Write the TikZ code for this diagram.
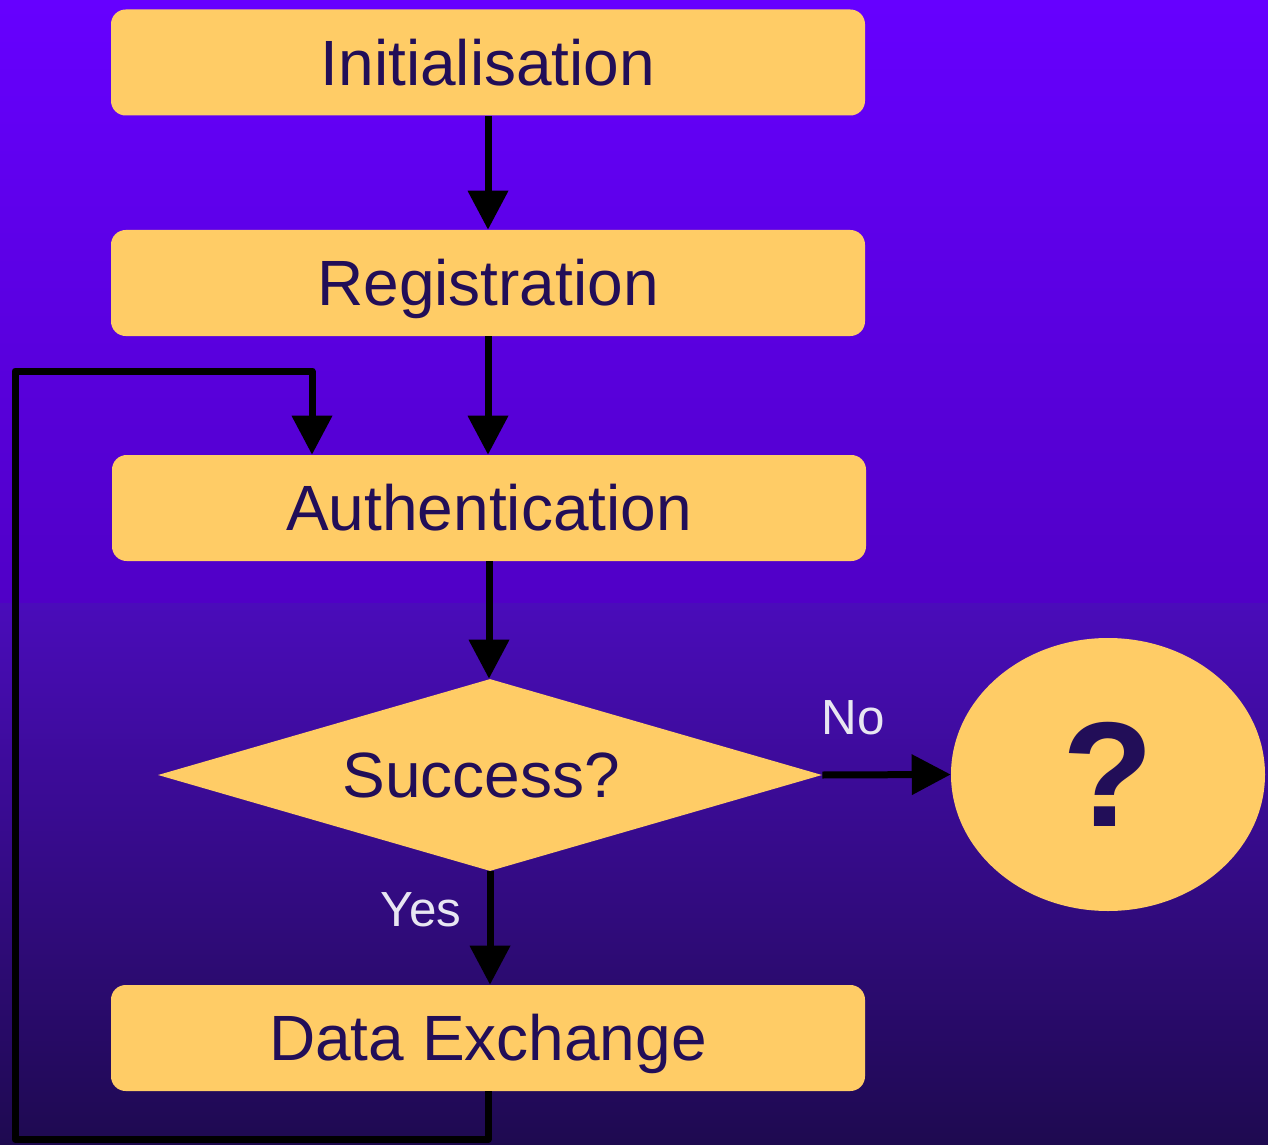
\documentclass[tikz,border=0pt]{standalone}
\usepackage{fontspec}
\setmainfont{Liberation Sans}
\usetikzlibrary{arrows.meta,shapes.geometric}
\definecolor{boxfill}{RGB}{255,204,102}
\definecolor{boxtext}{RGB}{34,14,88}
\definecolor{labeltext}{RGB}{232,230,242}
\definecolor{bgA}{RGB}{102,0,255}
\definecolor{bgB}{RGB}{80,0,198}
\definecolor{bgC}{RGB}{74,12,186}
\definecolor{bgD}{RGB}{30,10,80}
\newcommand\pxu{0.75pt}
\tikzset{
  stepbox/.style={draw=none, fill=boxfill, rounded corners=11pt,
    minimum width=754*\pxu, minimum height=106*\pxu, inner sep=0pt,
    text height=34.4pt, text depth=0pt,
    text=boxtext, font=\fontsize{48}{56}\selectfont},
  decision/.style={diamond, draw=none, fill=boxfill, aspect=3.458,
    minimum width=664*\pxu, minimum height=192*\pxu, inner sep=0pt,
    text height=34.4pt, text depth=0pt,
    text=boxtext, font=\fontsize{48}{56}\selectfont},
  unknown/.style={ellipse, draw=none, fill=boxfill,
    minimum width=314*\pxu, minimum height=273*\pxu, inner sep=0pt,
    text=boxtext, font=\bfseries\fontsize{112}{120}\selectfont},
  flow/.style={draw=black, line width=7*\pxu, line join=round,
    -{Triangle[width=39*\pxu, length=39*\pxu]}},
  branchlabel/.style={text=labeltext, font=\fontsize{37}{44}\selectfont, inner sep=0pt}
}
\begin{document}
\begin{tikzpicture}[x=0.75pt, y=-0.75pt]
  % background in two shaded bands
  \useasboundingbox (0,0) rectangle (1268,1145);
  \shade[top color=bgA, bottom color=bgB] (0,0) rectangle (1268,603);
  \shade[top color=bgC, bottom color=bgD] (0,603) rectangle (1268,1145);

  % process steps
  \node[stepbox] (init) at (488,62.5) {Initialisation};
  \node[stepbox] (reg)  at (488,283)  {Registration};
  \node[stepbox] (auth) at (489,508)  {Authentication};
  \node[decision] (ok)  at (490,775)  {\hspace*{-13pt}Success?};
  \node[unknown] (q)    at (1108,774.5) {?};
  \node[stepbox] (data) at (488,1038) {Data Exchange};

  % loop back from data exchange to authentication
  \coordinate (loopBL) at (15,1139.5);
  \coordinate (loopTL) at (15,371);
  \coordinate (loopT)  at (312,371);

  % connectors
  \draw[flow] (init.south) -- (reg.north);
  \draw[flow] (reg.south) -- (reg.south |- auth.north);
  \draw[flow] (auth.south) -- (auth.south |- ok.north);
  \draw[flow] (ok.east) -- (q.west);
  \draw[flow] (ok.south) -- (ok.south |- data.north);
  \draw[flow] (data.south) |- (loopBL) -- (loopTL) -- (loopT) -- (loopT |- auth.north);

  % branch labels
  \node[branchlabel] (nolbl)  at (853,718) {No};
  \node[branchlabel] (yeslbl) at (421,910) {Yes};
\end{tikzpicture}
\end{document}
